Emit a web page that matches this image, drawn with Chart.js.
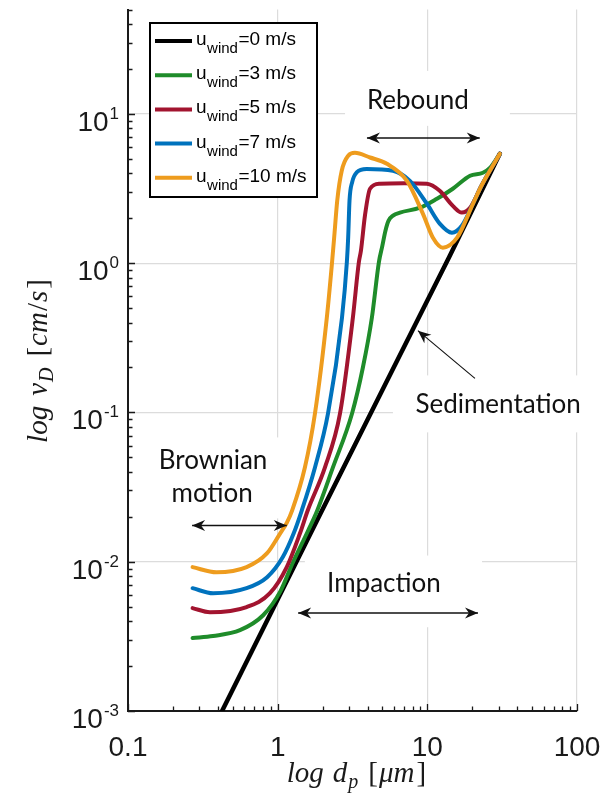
<!DOCTYPE html>
<html>
<head>
<meta charset="utf-8">
<script src="https://cdn.jsdelivr.net/npm/chart.js@4.4.1/dist/chart.umd.min.js"></script>
<style>
  html, body { margin: 0; padding: 0; background: #fff; overflow: hidden; }
  #wrap { width: 603px; height: 795px; position: relative; }
</style>
</head>
<body>
<div id="wrap"><canvas id="chart"></canvas></div>
<script>
// Deposition velocity v_D [cm/s] against particle diameter d_p [µm], one curve per wind speed.
const windSpeeds = ['0', '3', '5', '7', '10'];

const dpCalm = [0.425, 1.9, 5.0, 14.0, 30.5];
const vdCalm = [0.001, 0.0203, 0.141, 1.10, 5.4];

const dpWind3 = [0.27, 0.37, 0.56, 0.80, 1.04, 1.26, 1.59, 1.83, 2.34, 3.14, 3.71, 4.26, 4.75, 5.0, 5.25, 5.5, 5.9, 6.56, 8.93, 11.6, 14.8, 19.3, 23.5, 26.2, 30.5];
const vdWind3 = [0.00308, 0.00318, 0.00348, 0.00438, 0.0063, 0.0098, 0.0160, 0.0218, 0.0428, 0.0984, 0.200, 0.431, 1.02, 1.30, 1.65, 1.92, 2.08, 2.18, 2.35, 2.70, 3.15, 3.85, 4.03, 4.35, 5.4];

const dpWind5 = [0.27, 0.353, 0.62, 0.888, 1.15, 1.41, 1.59, 2.07, 2.61, 3.18, 3.49, 3.60, 3.83, 4.14, 4.82, 7.0, 9.93, 12.1, 14.8, 17.0, 19.3, 23.0, 30.5];
const vdWind5 = [0.00489, 0.00459, 0.00497, 0.00615, 0.0092, 0.0155, 0.0221, 0.0428, 0.0984, 0.431, 1.02, 1.21, 2.08, 3.15, 3.40, 3.43, 3.40, 3.05, 2.42, 2.18, 2.35, 3.3, 5.4];

const dpWind7 = [0.27, 0.37, 0.62, 0.85, 1.08, 1.28, 1.45, 1.775, 2.17, 2.69, 2.90, 2.96, 3.02, 3.15, 3.37, 3.93, 5.89, 7.65, 9.93, 12.1, 14.6, 17.0, 20.2, 23.0, 30.5];
const vdWind7 = [0.00665, 0.00615, 0.00665, 0.00787, 0.0107, 0.0155, 0.0221, 0.0428, 0.0984, 0.431, 1.02, 1.5, 2.62, 3.5, 4.05, 4.27, 4.16, 3.56, 2.50, 1.84, 1.60, 1.78, 2.5, 3.3, 5.4];

const dpWind10 = [0.27, 0.39, 0.62, 0.85, 1.04, 1.15, 1.25, 1.52, 1.775, 2.13, 2.31, 2.40, 2.50, 2.68, 2.96, 3.28, 4.14, 5.37, 7.31, 9.35, 10.9, 12.7, 15.8, 20.2, 23.0, 30.5];
const vdWind10 = [0.0092, 0.0085, 0.0092, 0.0114, 0.0155, 0.0182, 0.0221, 0.0428, 0.0984, 0.431, 1.02, 1.6, 2.62, 4.16, 5.24, 5.48, 5.1, 4.63, 3.56, 2.14, 1.48, 1.27, 1.48, 2.5, 3.3, 5.4];

const xTickValues = [0.1, 1, 10, 100];
const xTickLabels = ['0.1', '1', '10', '100'];
const yTickValues = [0.001, 0.01, 0.1, 1, 10];
const yTickExponents = ['-3', '-2', '-1', '0', '1'];

// Styling per curve (legend order)
const curveColors = ['#000000', '#1f8c2a', '#a2142f', '#0072bd', '#ee9c1e'];
const curveWidths = [4.5, 4, 4, 4, 4];
const curveData = [
  [dpCalm, vdCalm], [dpWind3, vdWind3], [dpWind5, vdWind5], [dpWind7, vdWind7], [dpWind10, vdWind10]
];

// Region labels: text anchors, double arrows and white backing boxes, in data units
const noteBoxes = [
  { x0: 2.82, x1: 35.6, y0: 8.31, y1: 19.4 },
  { x0: 5.89, x1: 300, y0: 0.0735, y1: 0.177 },
  { x0: 0.12, x1: 1.17, y0: 0.0195, y1: 0.068 },
  { x0: 1.52, x1: 23.2, y0: 0.00364, y1: 0.0110 }
];
const noteTexts = [
  { text: 'Rebound', x: 8.65, y: 12.2 },
  { text: 'Sedimentation', x: 29.7, y: 0.113 },
  { text: 'Brownian', x: 0.37, y: 0.0478 },
  { text: 'motion', x: 0.365, y: 0.0287 },
  { text: 'Impaction', x: 5.13, y: 0.00718 }
];
const noteArrows = [
  { x0: 3.95, y0: 6.9, x1: 22.4, y1: 6.9, both: true, w: 1.5 },
  { x0: 0.268, y0: 0.0175, x1: 1.15, y1: 0.0175, both: true, w: 1.5 },
  { x0: 1.37, y0: 0.00453, x1: 21.8, y1: 0.00453, both: true, w: 1.5 },
  { x0: 20.8, y0: 0.169, x1: 8.65, y1: 0.353, both: false, w: 1.1 }
];

const TICK_FONT = '28px "Liberation Sans", Arial, sans-serif';
const SUP_FONT = '17px "Liberation Sans", Arial, sans-serif';
const NOTE_FONT = '26px Lato, "Open Sans", sans-serif';
const MATH_FONT = 'italic 29px "Liberation Serif", "Times New Roman", serif';
const MATH_UP = '29px "Liberation Serif", "Times New Roman", serif';
const MATH_SUB = 'italic 20px "Liberation Serif", "Times New Roman", serif';
const LEG_FONT = '19px "Liberation Sans", Arial, sans-serif';
const LEG_SUB = '15px "Liberation Sans", Arial, sans-serif';

function richWidth(ctx, parts) {
  let w = 0;
  for (const p of parts) {
    w += p.gap || 0;
    if (p.t) { ctx.font = p.font; w += ctx.measureText(p.t).width; }
  }
  return w;
}
function drawRich(ctx, parts, x, y, align) {
  const w = richWidth(ctx, parts);
  let cx = align === 'right' ? x - w : align === 'center' ? x - w / 2 : x;
  ctx.textAlign = 'left';
  ctx.textBaseline = 'alphabetic';
  for (const p of parts) {
    cx += p.gap || 0;
    if (p.t) {
      ctx.font = p.font;
      ctx.fillText(p.t, cx, y + (p.dy || 0));
      cx += ctx.measureText(p.t).width;
    }
  }
}
function arrowHead(ctx, xa, ya, xb, yb) {
  const a = Math.atan2(yb - ya, xb - xa), L = 13, W = 5.5, N = 9;
  const c = Math.cos(a), s = Math.sin(a);
  ctx.beginPath();
  ctx.moveTo(xb, yb);
  ctx.lineTo(xb - L * c + W * s, yb - L * s - W * c);
  ctx.lineTo(xb - N * c, yb - N * s);
  ctx.lineTo(xb - L * c - W * s, yb - L * s + W * c);
  ctx.closePath();
  ctx.fill();
}

const overlay = {
  id: 'overlay',
  beforeDatasetsDraw(chart) {
    const { ctx, scales: { x, y } } = chart;
    ctx.save();
    ctx.fillStyle = '#ffffff';
    for (const b of noteBoxes) {
      const px0 = x.getPixelForValue(b.x0), px1 = x.getPixelForValue(b.x1);
      const py0 = y.getPixelForValue(b.y1), py1 = y.getPixelForValue(b.y0);
      ctx.fillRect(px0, py0, px1 - px0, py1 - py0);
    }
    ctx.restore();
  },
  afterDatasetsDraw(chart) {
    const { ctx, chartArea: area, scales: { x, y } } = chart;
    ctx.save();

    // inward tick marks on both axes
    ctx.strokeStyle = '#1a1a1a';
    ctx.lineWidth = 1.3;
    ctx.beginPath();
    for (let d = 0.001; d < 100; d *= 10) {
      for (let m = 1; m <= 9; m++) {
        const v = m * d;
        if (v < y.min * 0.999 || v > y.max * 1.001) continue;
        const py = Math.round(y.getPixelForValue(v)) + 0.5;
        const len = m === 1 ? 7 : 4.5;
        ctx.moveTo(area.left, py); ctx.lineTo(area.left + len, py);
      }
    }
    for (let d = 0.1; d <= 100; d *= 10) {
      for (let m = 1; m <= 9; m++) {
        const v = m * d;
        if (v < x.min * 0.999 || v > x.max * 1.001) continue;
        const px = Math.round(x.getPixelForValue(v)) + 0.5;
        const len = m === 1 ? 7 : 4.5;
        ctx.moveTo(px, area.bottom); ctx.lineTo(px, area.bottom - len);
      }
    }
    ctx.stroke();

    // tick labels
    ctx.fillStyle = '#1a1a1a';
    yTickValues.forEach((v, i) => {
      const py = y.getPixelForValue(v);
      drawRich(ctx, [
        { t: '10', font: TICK_FONT },
        { t: yTickExponents[i], font: SUP_FONT, dy: -12, gap: 1 }
      ], area.left - 9, py + 17, 'right');
    });
    ctx.font = TICK_FONT;
    ctx.textAlign = 'center';
    ctx.textBaseline = 'alphabetic';
    xTickValues.forEach((v, i) => {
      ctx.fillText(xTickLabels[i], x.getPixelForValue(v), area.bottom + 45);
    });

    // axis titles
    drawRich(ctx, [
      { t: 'log', font: MATH_FONT },
      { t: 'd', font: MATH_FONT, gap: 9 },
      { t: 'p', font: MATH_SUB, dy: 6, gap: 1 },
      { t: '[', font: MATH_UP, gap: 10 },
      { t: 'μm', font: MATH_FONT, gap: 1 },
      { t: ']', font: MATH_UP, gap: 2 }
    ], (area.left + area.right) / 2 + 4, 782, 'center');

    ctx.save();
    ctx.translate(47, 361);
    ctx.rotate(-Math.PI / 2);
    drawRich(ctx, [
      { t: 'log', font: MATH_FONT },
      { t: 'v', font: MATH_FONT, gap: 10 },
      { t: 'D', font: MATH_SUB, dy: 6, gap: 1 },
      { t: '[', font: MATH_UP, gap: 11 },
      { t: 'cm', font: MATH_FONT, gap: 1 },
      { t: '/', font: MATH_UP, gap: 1 },
      { t: 's', font: MATH_FONT, gap: 1 },
      { t: ']', font: MATH_UP, gap: 2 }
    ], 0, 0, 'center');
    ctx.restore();

    // region labels and arrows
    ctx.fillStyle = '#111';
    ctx.strokeStyle = '#111';
    for (const a of noteArrows) {
      const xa = x.getPixelForValue(a.x0), ya = y.getPixelForValue(a.y0);
      const xb = x.getPixelForValue(a.x1), yb = y.getPixelForValue(a.y1);
      ctx.lineWidth = a.w;
      ctx.beginPath(); ctx.moveTo(xa, ya); ctx.lineTo(xb, yb); ctx.stroke();
      arrowHead(ctx, xa, ya, xb, yb);
      if (a.both) arrowHead(ctx, xb, yb, xa, ya);
    }
    ctx.font = NOTE_FONT;
    ctx.textAlign = 'center';
    ctx.textBaseline = 'middle';
    for (const n of noteTexts) {
      ctx.fillText(n.text, x.getPixelForValue(n.x), y.getPixelForValue(n.y));
    }

    // legend box
    const lx = area.left + 22, ly = area.top + 13.5, lw = 167, lh = 174;
    ctx.fillStyle = '#fff';
    ctx.fillRect(lx, ly, lw, lh);
    ctx.strokeStyle = '#000';
    ctx.lineWidth = 2;
    ctx.strokeRect(lx, ly, lw, lh);
    windSpeeds.forEach((sp, i) => {
      const rowY = ly + 18 + i * 34.2;
      ctx.strokeStyle = curveColors[i];
      ctx.lineWidth = 4;
      ctx.beginPath(); ctx.moveTo(lx + 5, rowY); ctx.lineTo(lx + 42, rowY); ctx.stroke();
      ctx.fillStyle = '#000';
      drawRich(ctx, [
        { t: 'u', font: LEG_FONT },
        { t: 'wind', font: LEG_SUB, dy: 8, gap: 0.5 },
        { t: '=' + sp + ' m/s', font: LEG_FONT, gap: 0.5 }
      ], lx + 46, rowY + 4, 'left');
    });

    ctx.restore();
  }
};

// Orange drawn on top, black at the bottom
const datasets = curveData.map(([dp, vd], i) => ({
  label: 'u_wind=' + windSpeeds[i] + ' m/s',
  data: dp.map((d, k) => ({ x: d, y: vd[k] })),
  borderColor: curveColors[i],
  borderWidth: curveWidths[i],
  pointRadius: 0,
  fill: false,
  cubicInterpolationMode: i === 0 ? 'default' : 'monotone',
  tension: i === 0 ? 0 : 0.4,
  borderCapStyle: 'round',
  borderJoinStyle: 'round'
})).reverse();

new Chart(document.getElementById('chart'), {
  type: 'line',
  data: { datasets },
  options: {
    responsive: true,
    maintainAspectRatio: false,
    animation: false,
    events: [],
    devicePixelRatio: 1,
    layout: { padding: { top: 9.5, right: 26, left: 0, bottom: 0 } },
    plugins: { legend: { display: false }, tooltip: { enabled: false } },
    scales: {
      x: {
        type: 'logarithmic', min: 0.1, max: 100, position: 'bottom',
        afterBuildTicks: s => { s.ticks = xTickValues.map(v => ({ value: v })); },
        afterFit: s => { s.height = 84; },
        ticks: { display: false },
        grid: { color: '#dcdcdc', lineWidth: 1.2, drawTicks: false },
        border: { display: true, color: '#1a1a1a', width: 2 }
      },
      y: {
        type: 'logarithmic', min: 0.001, max: 50, position: 'left',
        afterBuildTicks: s => { s.ticks = yTickValues.map(v => ({ value: v })); },
        afterFit: s => { s.width = 128; },
        ticks: { display: false },
        grid: { color: '#dcdcdc', lineWidth: 1.2, drawTicks: false },
        border: { display: true, color: '#1a1a1a', width: 2 }
      }
    }
  },
  plugins: [overlay]
});
</script>
</body>
</html>
